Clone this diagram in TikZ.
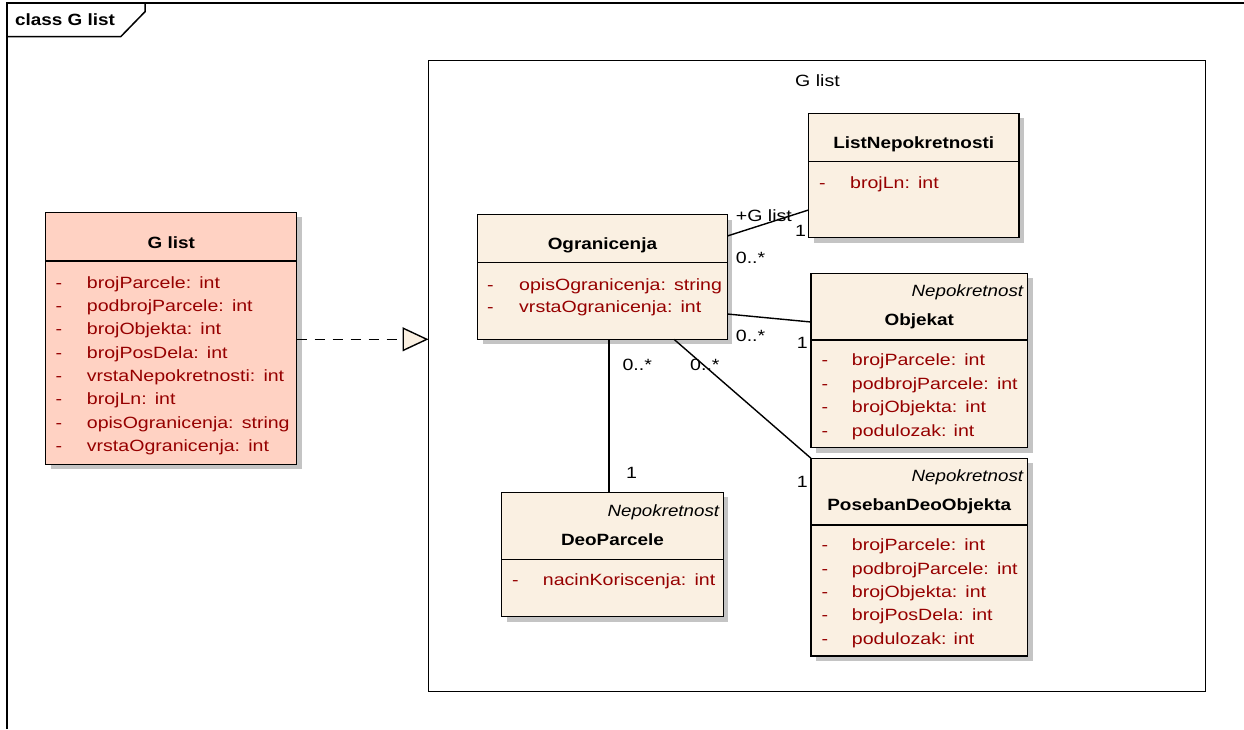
\documentclass[tikz,border=0pt]{standalone}
\usepackage{fontspec}
\setmainfont{Liberation Sans}[FakeStretch=1.2]
\newfontfamily\titlefont{Liberation Sans}[FakeStretch=1.16]
\newfontfamily\stereofont{Liberation Sans}[FakeStretch=1.15]
\usetikzlibrary{shadows,calc,arrows.meta}

\definecolor{clsfill}{RGB}{250,240,226}
\definecolor{pinkfill}{RGB}{255,210,195}
\definecolor{attrred}{RGB}{150,0,0}
\definecolor{shadowgray}{RGB}{196,196,196}

% gap between an attribute name and its type
\newcommand{\tsep}{\hspace{0.5em}}

% class box: [fill]{name}{x1}{y1}{x2}{y2}{divider y}
\newcommand{\umlclassbox}[7][clsfill]{%
  \node[classbox, fill=#1, minimum width={#5-#3}, minimum height={#6-#4}] (#2) at (#3,#4) {};
  \draw[boxline] ($(#2.north west)+(0,#7-#4)$) -- ($(#2.north east)+(0,#7-#4)$);
}

\begin{document}
\begin{tikzpicture}[x=1pt,y=-1pt,
  font=\fontsize{16.3}{20}\selectfont,
  boxline/.style={line width=1.5pt, draw=black},
  classbox/.style={draw=black, line width=1.5pt, outer sep=0pt, inner sep=0pt,
    anchor=north west,
    drop shadow={shadow xshift=5pt, shadow yshift=-5pt, fill=shadowgray, opacity=1}},
  pkgbox/.style={draw=black, line width=1.5pt, outer sep=0pt, inner sep=0pt, anchor=north west},
  ctitle/.style={anchor=base, inner sep=0pt, font=\titlefont\bfseries\fontsize{16.3}{20}\selectfont},
  stereo/.style={anchor=base east, inner sep=0pt, font=\stereofont\itshape\fontsize{16.3}{20}\selectfont},
  attrtext/.style={anchor=base west, inner sep=0pt, text=attrred},
  mult/.style={anchor=base west, inner sep=0pt},
  assoc/.style={line width=1.4pt, draw=black},
  realize/.style={line width=1.6pt, draw=black, dash pattern=on 10pt off 8pt,
    -{Triangle[open, length=26pt, width=24pt, fill=clsfill, line width=1.4pt]}}
]
\useasboundingbox (0,0) rectangle (1244,729);

% diagram frame with its name tab
\draw[boxline] (7,729) -- (7,3) -- (1244,3);
\draw[boxline] (7,36.7) -- (120.7,36.7) -- (145,11.7) -- (145,3);
\node[anchor=base west, inner sep=0pt, font=\titlefont\bfseries\fontsize{16.3}{20}\selectfont] (frametitle) at (15,25) {class G list};

% package
\node[pkgbox, minimum width=777, minimum height=631] (pkg) at (428.5,60.5) {};
\node[anchor=base, inner sep=0pt] (pkgname) at (817.5,86) {G list};

% class on the left
\umlclassbox[pinkfill]{gl}{45.7}{212.3}{296.7}{464.3}{261}
\node[ctitle] (gl-t) at (171.2,248.3) {G list};
\foreach \t [count=\i] in {brojParcele:\tsep int, podbrojParcele:\tsep int, brojObjekta:\tsep int, brojPosDela:\tsep int, vrstaNepokretnosti:\tsep int, brojLn:\tsep int, opisOgranicenja:\tsep string, vrstaOgranicenja:\tsep int} {
  \node[attrtext] (gl-m\i) at (55.5,{288.3+23.33*(\i-1)}) {-};
  \node[attrtext] (gl-a\i) at (86.7,{288.3+23.33*(\i-1)}) {\t};
}

% Ogranicenja
\umlclassbox{ogr}{477.5}{214.5}{727.3}{339.3}{262.7}
\node[ctitle] (ogr-t) at (602.4,249.3) {Ogranicenja};
\foreach \t [count=\i] in {opisOgranicenja:\tsep string, vrstaOgranicenja:\tsep int} {
  \node[attrtext] (ogr-m\i) at (487,{290+22.3*(\i-1)}) {-};
  \node[attrtext] (ogr-a\i) at (519,{290+22.3*(\i-1)}) {\t};
}

% ListNepokretnosti
\umlclassbox{lst}{808.5}{113.3}{1019}{237.7}{161.7}
\node[ctitle] (lst-t) at (913.7,148.3) {ListNepokretnosti};
\node[attrtext] (lst-m1) at (819,188.3) {-};
\node[attrtext] (lst-a1) at (850,188.3) {brojLn:\tsep int};

% Objekat
\umlclassbox{obj}{811}{273.3}{1027.7}{447.7}{340}
\node[stereo] (obj-s) at (1023.3,296.7) {Nepokretnost};
\node[ctitle] (obj-t) at (919.3,325) {Objekat};
\foreach \t [count=\i] in {brojParcele:\tsep int, podbrojParcele:\tsep int, brojObjekta:\tsep int, podulozak: int} {
  \node[attrtext] (obj-m\i) at (821.5,{365.7+23.43*(\i-1)}) {-};
  \node[attrtext] (obj-a\i) at (851.7,{365.7+23.43*(\i-1)}) {\t};
}

% PosebanDeoObjekta
\umlclassbox{pdo}{811}{458.3}{1027.7}{656}{525}
\node[stereo] (pdo-s) at (1023.3,481.7) {Nepokretnost};
\node[ctitle] (pdo-t) at (919.3,510) {PosebanDeoObjekta};
\foreach \t [count=\i] in {brojParcele:\tsep int, podbrojParcele:\tsep int, brojObjekta:\tsep int, brojPosDela:\tsep int, podulozak: int} {
  \node[attrtext] (pdo-m\i) at (821.5,{550.7+23.4*(\i-1)}) {-};
  \node[attrtext] (pdo-a\i) at (851.7,{550.7+23.4*(\i-1)}) {\t};
}

% DeoParcele
\umlclassbox{dp}{501.7}{492.3}{723.3}{616.7}{559.3}
\node[stereo] (dp-s) at (719.3,516.7) {Nepokretnost};
\node[ctitle] (dp-t) at (612.5,545) {DeoParcele};
\node[attrtext] (dp-m1) at (512,585) {-};
\node[attrtext] (dp-a1) at (542.7,585) {nacinKoriscenja:\tsep int};

% connector end points
\coordinate (rs) at ($(gl.north east)+(0,127)$);
\coordinate (dpa) at ($(ogr.south west)+(131.5,0)$);
\coordinate (pda) at ($(ogr.south west)+(196.5,0)$);

% realization into the package
\draw[realize] (rs) -- (rs -| pkg.west);

% associations
\draw[assoc] ($(ogr.north east)+(0,21.5)$) -- ($(lst.south west)+(0,-27.7)$);
\draw[assoc] ($(ogr.north east)+(0,99.5)$) -- ($(obj.north west)+(0,48.7)$);
\draw[assoc] (dpa) -- (dpa |- dp.north);
\draw[assoc] (pda) -- (pdo.north west);

% association end labels
\node[mult] (l-role) at (735.7,221.7) {+G list};
\node[mult] (l-lst1) at (795,236) {1};
\node[mult] (l-ogr1) at (735.7,263.3) {0..*};
\node[mult] (l-ogr2) at (735.7,341.7) {0..*};
\node[mult] (l-obj1) at (796.7,348.5) {1};
\node[mult] (l-ogr3) at (622.3,370) {0..*};
\node[mult] (l-ogr4) at (690,370) {0..*};
\node[mult] (l-dp1) at (626,478) {1};
\node[mult] (l-pdo1) at (796.7,487.5) {1};

\end{tikzpicture}
\end{document}
